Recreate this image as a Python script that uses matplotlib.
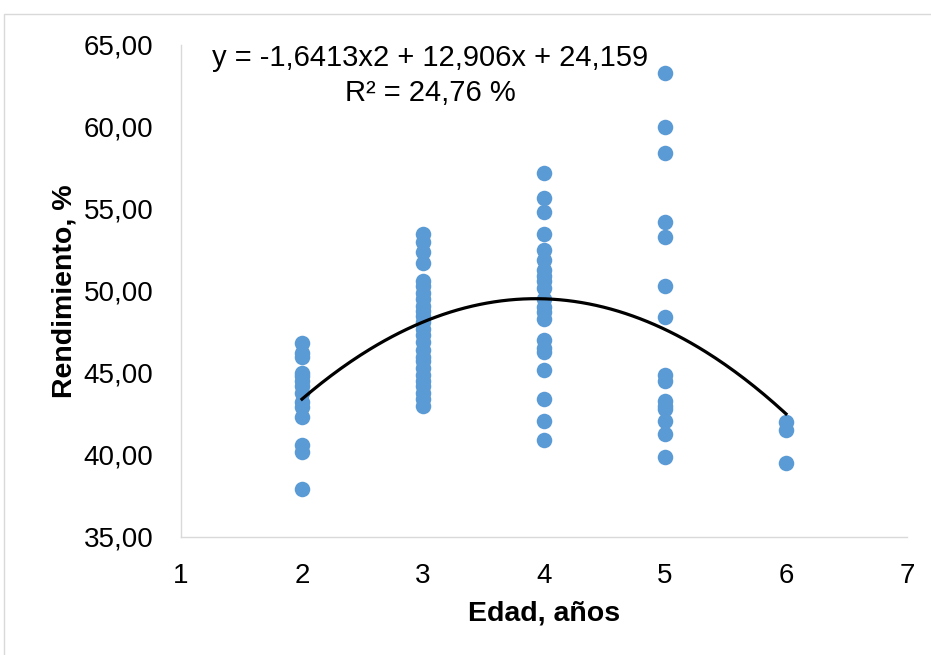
import numpy as np
import matplotlib.pyplot as plt
from matplotlib.patches import Rectangle
from matplotlib.ticker import FuncFormatter

plt.rcParams['font.family'] = ['Liberation Sans', 'DejaVu Sans']

# datos
edad_2 = [46.8, 46.2, 46.0, 45.0, 44.8, 44.5, 44.2, 43.8, 43.2, 42.9, 42.3, 40.6, 40.2, 37.9]
edad_3 = [53.5, 53.0, 52.4, 51.7, 50.6, 50.3, 49.9, 49.5, 49.1, 48.8, 48.5, 48.1, 47.7,
          47.3, 46.9, 46.4, 46.0, 45.7, 45.3, 44.9, 44.5, 44.2, 43.8, 43.4, 43.0]
edad_4 = [57.2, 55.7, 54.8, 53.5, 52.5, 51.9, 51.3, 50.9, 50.6, 50.2, 49.5, 49.0, 48.7,
          48.3, 47.0, 46.5, 46.3, 45.2, 43.4, 42.1, 40.9]
edad_5 = [63.3, 60.0, 58.4, 54.2, 53.3, 50.3, 48.4, 44.9, 44.5, 43.3, 43.0, 42.8, 42.1, 41.3, 39.9]
edad_6 = [42.0, 41.5, 39.5]

coef = [-1.6413, 12.906, 24.159]

x = np.concatenate([np.full(len(v), e) for e, v in
                    zip([2, 3, 4, 5, 6], [edad_2, edad_3, edad_4, edad_5, edad_6])])
y = np.concatenate([edad_2, edad_3, edad_4, edad_5, edad_6])

fig = plt.figure(figsize=(9.31, 6.55), dpi=100)
ax = fig.add_axes([0.1944, 0.1802, 0.7798, 0.7511])

ax.scatter(x, y, s=125, color='#5B9BD5', zorder=2, linewidths=0)

xt = np.linspace(2, 6, 200)
ax.plot(xt, np.polyval(coef, xt), color='black', lw=2.3, zorder=3)

ax.set_xlim(1, 7)
ax.set_ylim(35, 65)
ax.set_xticks(range(1, 8))
ax.set_yticks(range(35, 66, 5))
ax.yaxis.set_major_formatter(FuncFormatter(lambda v, p: ('%.2f' % v).replace('.', ',')))
ax.tick_params(length=0, labelsize=20, colors='#000000')
ax.tick_params(axis='y', pad=20)
ax.tick_params(axis='x', pad=19)

for s in ['top', 'right']:
    ax.spines[s].set_visible(False)
for s in ['left', 'bottom']:
    ax.spines[s].set_color('#D9D9D9')
    ax.spines[s].set_linewidth(1)

ax.set_xlabel('Edad, años', fontsize=20.5, fontweight='bold', labelpad=8)
ax.set_ylabel('Rendimiento, %', fontsize=20.5, fontweight='bold', labelpad=4)

ax.text(3.06, 64.2, 'y = -1,6413x2 + 12,906x + 24,159', fontsize=21, ha='center', va='center')
ax.text(3.06, 62.1, 'R² = 24,76 %', fontsize=21, ha='center', va='center')

fig.patches.append(Rectangle((4 / 931, -0.01), 1.0, 1 - 14 / 655 + 0.01, transform=fig.transFigure,
                             fill=False, edgecolor='#D9D9D9', lw=1))

fig.savefig('out.png', dpi=100)
